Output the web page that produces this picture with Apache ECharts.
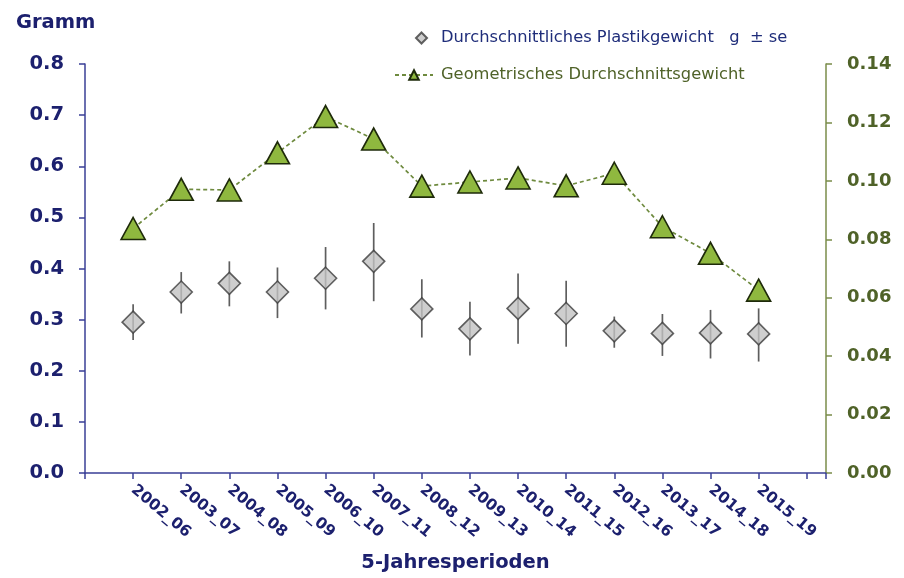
<!DOCTYPE html>
<html>
<head>
<meta charset="utf-8">
<script src="https://cdn.jsdelivr.net/npm/echarts@6/dist/echarts.min.js"></script>
<style>html,body{margin:0;padding:0;background:#fff}#c{width:904px;height:578px}</style>
</head>
<body>
<div id="c"></div>
<script>
const periods = ['2002_06','2003_07','2004_08','2005_09','2006_10','2007_11','2008_12','2009_13','2010_14','2011_15','2012_16','2013_17','2014_18','2015_19'];
const meanWeight = [0.295,0.354,0.371,0.354,0.381,0.414,0.321,0.282,0.322,0.312,0.278,0.273,0.274,0.272];
const seLow  = [0.260,0.312,0.326,0.303,0.320,0.336,0.265,0.230,0.253,0.247,0.245,0.229,0.224,0.218];
const seHigh = [0.330,0.393,0.414,0.402,0.442,0.489,0.379,0.335,0.390,0.376,0.306,0.311,0.319,0.322];
const geoMean = [0.0837,0.0971,0.0969,0.1096,0.1220,0.1143,0.0982,0.0996,0.1010,0.0983,0.1026,0.0843,0.0752,0.0626];
const leftTicks = {min:0, max:0.8, interval:0.1};
const rightTicks = {min:0, max:0.14, interval:0.02};

const nameA = 'Durchschnittliches Plastikgewicht   g  ± se';
const nameB = 'Geometrisches Durchschnittsgewicht';
const navy = '#1c206e';
const olive = '#4f6228';

const pos = periods.map((p,i)=>i+1);
const chart = echarts.init(document.getElementById('c'));
chart.setOption({
  animation:false,
  title:{text:'Gramm', left:11, top:8, textStyle:{fontFamily:'DejaVu Sans', fontWeight:'bold', fontSize:19.5, color:navy}},
  grid:{left:85, right:78, top:64, bottom:104},
  legend:[
    {data:[{name:nameA, icon:'diamond'}], left:415, top:30, padding:0, itemWidth:11, itemHeight:11,
     textStyle:{fontFamily:'DejaVu Sans', fontSize:16.3, color:'#1f2d7a', padding:[0,0,0,9]}},
    {data:[nameB], left:394, top:67, padding:0, itemWidth:38, itemHeight:12,
     textStyle:{fontFamily:'DejaVu Sans', fontSize:16.3, color:olive, padding:[0,0,0,3]}}
  ],
  xAxis:{
    type:'value', min:0, max:15.4, interval:1,
    name:'5-Jahresperioden', nameLocation:'middle', nameGap:80,
    nameTextStyle:{fontFamily:'DejaVu Sans', fontWeight:'bold', fontSize:19.5, color:navy},
    axisLine:{lineStyle:{color:'#3a3f96', width:1.5}},
    axisTick:{length:6, lineStyle:{color:'#3a3f96', width:1.5}},
    splitLine:{show:false},
    axisLabel:{rotate:-40, margin:15, fontFamily:'DejaVu Sans', fontWeight:'bold', fontSize:15.5, color:navy,
      formatter:v=>{const i=Math.round(v); return (Math.abs(v-i)<1e-6 && i>=1 && i<=periods.length)?periods[i-1]:'';}}
  },
  yAxis:[
    {type:'value', min:leftTicks.min, max:leftTicks.max, interval:leftTicks.interval, position:'left',
     axisLine:{show:true, lineStyle:{color:'#3a3f96', width:1.5}},
     axisTick:{show:true, length:6, lineStyle:{color:'#3a3f96', width:1.5}},
     splitLine:{show:false},
     axisLabel:{margin:21, fontFamily:'DejaVu Sans', fontWeight:'bold', fontSize:19.5, color:navy, formatter:v=>v.toFixed(1)}},
    {type:'value', min:rightTicks.min, max:rightTicks.max, interval:rightTicks.interval, position:'right',
     axisLine:{show:true, lineStyle:{color:'#7a8c4a', width:1.5}},
     axisTick:{show:true, length:6, lineStyle:{color:'#7a8c4a', width:1.5}},
     splitLine:{show:false},
     axisLabel:{margin:21, fontFamily:'DejaVu Sans', fontWeight:'bold', fontSize:18, color:olive, formatter:v=>v.toFixed(2)}}
  ],
  series:[
    {type:'custom', name:'se', yAxisIndex:0, z:2,
     data:pos.map((x,i)=>[x, seLow[i], seHigh[i]]),
     encode:{x:0, y:[1,2]},
     renderItem:(params, api)=>{
       const a = api.coord([api.value(0), api.value(1)]);
       const b = api.coord([api.value(0), api.value(2)]);
       return {type:'line', shape:{x1:a[0], y1:a[1], x2:b[0], y2:b[1]}, style:{stroke:'#5e5e5e', lineWidth:1.7}};
     }},
    {type:'scatter', name:nameA, yAxisIndex:0, z:3, symbol:'diamond', symbolSize:[22,22],
     itemStyle:{color:'#c2c2c2', borderColor:'#3c3c3c', borderWidth:1.6},
     data:pos.map((x,i)=>[x, meanWeight[i]])},
    {type:'line', name:nameB, yAxisIndex:1, z:4, symbol:'triangle', symbolSize:[24,22], symbolKeepAspect:true,
     lineStyle:{color:'#6e8a3e', width:1.7, type:[4,3]},
     itemStyle:{color:'#8fb83f', borderColor:'#1e2a0a', borderWidth:1.6},
     data:pos.map((x,i)=>[x, geoMean[i]])}
  ]
});
</script>
</body>
</html>
